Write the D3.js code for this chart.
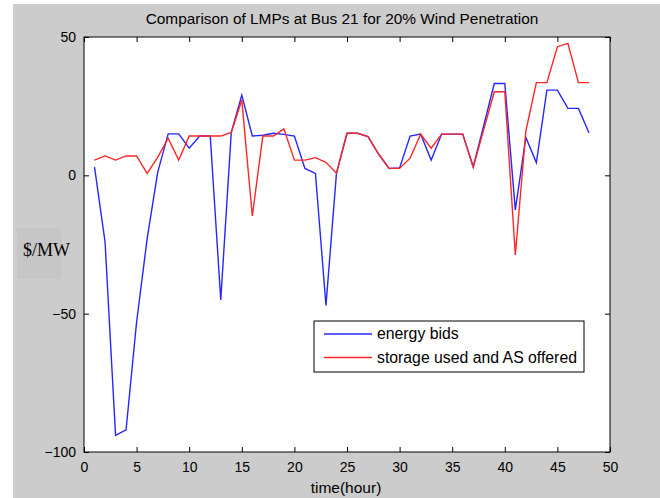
<!DOCTYPE html>
<html>
<head>
<meta charset="utf-8">
<script src="https://cdn.jsdelivr.net/npm/d3@7"></script>
<style>
  html, body { margin: 0; padding: 0; background: #ffffff; }
  svg { display: block; }
  text { font-family: "Liberation Sans", Arial, Helvetica, sans-serif; fill: #000; }
</style>
</head>
<body>
<svg id="chart" width="660" height="498"></svg>
<script>
// Hourly locational marginal prices at bus 21 ($/MW)
const hours = d3.range(1, 49);
const energyBids = [
  3, -24, -94, -92, -53, -23, 1, 15, 15, 9.8, 14.2, 14.2,
  -45, 15.5, 29, 14.2, 14.5, 15.2, 14.8, 14.2, 2.5, 0.7, -47, 0.8,
  15.2, 15.2, 14, 7.7, 2.5, 2.7, 14.2, 14.9, 5.5, 14.9, 14.9, 14.9,
  3.1, 18, 33.2, 33.2, -12.5, 13.7, 4.6, 30.8, 30.8, 24.2, 24.2, 15.4
];
const storageAS = [
  5.5, 7, 5.5, 7, 7, 0.7, 6.5, 13.4, 5.5, 14.2, 14.2, 14.2,
  14.2, 15.5, 27.2, -14.7, 14.2, 14.2, 16.8, 5.5, 5.5, 6.4, 4.7, 0.8,
  15.2, 15.2, 14, 7.7, 2.5, 2.5, 6.2, 14.9, 9.8, 14.9, 14.9, 14.9,
  2.9, 16.5, 30.2, 30.2, -28.8, 16, 33.5, 33.5, 46.5, 47.7, 33.5, 33.5
];
const xTicks = [0, 5, 10, 15, 20, 25, 30, 35, 40, 45, 50];
const yTicks = [-100, -50, 0, 50];
const seriesNames = ["energy bids", "storage used and AS offered"];
const seriesColors = ["#2626ff", "#ff2626"];

const svg = d3.select("#chart");
const W = 660, H = 498;
const plot = { left: 84, right: 610, top: 37, bottom: 452 };

// figure background
svg.append("rect").attr("x", 13).attr("y", 4).attr("width", W - 13).attr("height", H - 4)
  .attr("fill", "#cccccc");

const x = d3.scaleLinear().domain([0, 50]).range([plot.left, plot.right]);
const y = d3.scaleLinear().domain([-100, 50]).range([plot.bottom, plot.top]);

// axes area
svg.append("rect")
  .attr("x", plot.left).attr("y", plot.top)
  .attr("width", plot.right - plot.left).attr("height", plot.bottom - plot.top)
  .attr("fill", "#ffffff");

// series lines
const line = d3.line().x((d, i) => x(hours[i])).y(d => y(d));
[energyBids, storageAS].forEach((vals, k) => {
  svg.append("path")
    .datum(vals)
    .attr("fill", "none")
    .attr("stroke", seriesColors[k])
    .attr("stroke-width", 1.4)
    .attr("stroke-linejoin", "miter")
    .attr("d", line);
});

// box axes with inward ticks
const tickLen = 5;
const fontTick = 14;
const axisStyle = g => {
  g.select(".domain").remove();
  g.selectAll("line").attr("stroke", "#000").attr("stroke-width", 1);
  g.selectAll("text").style("font-size", fontTick + "px")
    .style("font-family", '"Liberation Sans", Arial, sans-serif').attr("fill", "#000");
};

svg.append("g").attr("transform", `translate(0,${plot.bottom})`)
  .call(d3.axisBottom(x).tickValues(xTicks).tickSizeInner(-tickLen).tickSizeOuter(0).tickPadding(10))
  .call(axisStyle);
svg.append("g").attr("transform", `translate(0,${plot.top})`)
  .call(d3.axisTop(x).tickValues(xTicks).tickSizeInner(-tickLen).tickSizeOuter(0).tickFormat(""))
  .call(axisStyle);
svg.append("g").attr("transform", `translate(${plot.left},0)`)
  .call(d3.axisLeft(y).tickValues(yTicks).tickSizeInner(-tickLen).tickSizeOuter(0).tickPadding(8))
  .call(axisStyle);
svg.append("g").attr("transform", `translate(${plot.right},0)`)
  .call(d3.axisRight(y).tickValues(yTicks).tickSizeInner(-tickLen).tickSizeOuter(0).tickFormat(""))
  .call(axisStyle);

// axes frame
svg.append("rect")
  .attr("x", plot.left).attr("y", plot.top)
  .attr("width", plot.right - plot.left).attr("height", plot.bottom - plot.top)
  .attr("fill", "none").attr("stroke", "#000").attr("stroke-width", 1);

// title
svg.append("text")
  .attr("x", (plot.left + plot.right) / 2 - 5).attr("y", 24)
  .attr("text-anchor", "middle")
  .style("font-size", "15.4px")
  .text("Comparison of LMPs at Bus 21 for 20% Wind Penetration");

// x label
svg.append("text")
  .attr("x", (plot.left + plot.right) / 2 - 1).attr("y", 493)
  .attr("text-anchor", "middle")
  .style("font-size", "15.5px")
  .text("time(hour)");

// y label on its own shaded patch
svg.append("rect").attr("x", 17).attr("y", 228).attr("width", 44).attr("height", 51)
  .attr("fill", "#c6c6c6");
svg.append("text")
  .attr("x", 23).attr("y", 256)
  .style("font-family", '"Liberation Serif", "Times New Roman", serif')
  .style("font-size", "18px")
  .text("$/MW");

// legend
const lg = svg.append("g");
lg.append("rect").attr("x", 314).attr("y", 321).attr("width", 270).attr("height", 51)
  .attr("fill", "#ffffff").attr("stroke", "#000").attr("stroke-width", 1);
seriesNames.forEach((name, k) => {
  const ly = 334 + k * 23.5;
  lg.append("line").attr("x1", 324).attr("x2", 372).attr("y1", ly).attr("y2", ly)
    .attr("stroke", seriesColors[k]).attr("stroke-width", 1.4);
  lg.append("text").attr("x", 377).attr("y", ly + 5)
    .style("font-size", "15.8px")
    .text(name);
});
</script>
</body>
</html>
